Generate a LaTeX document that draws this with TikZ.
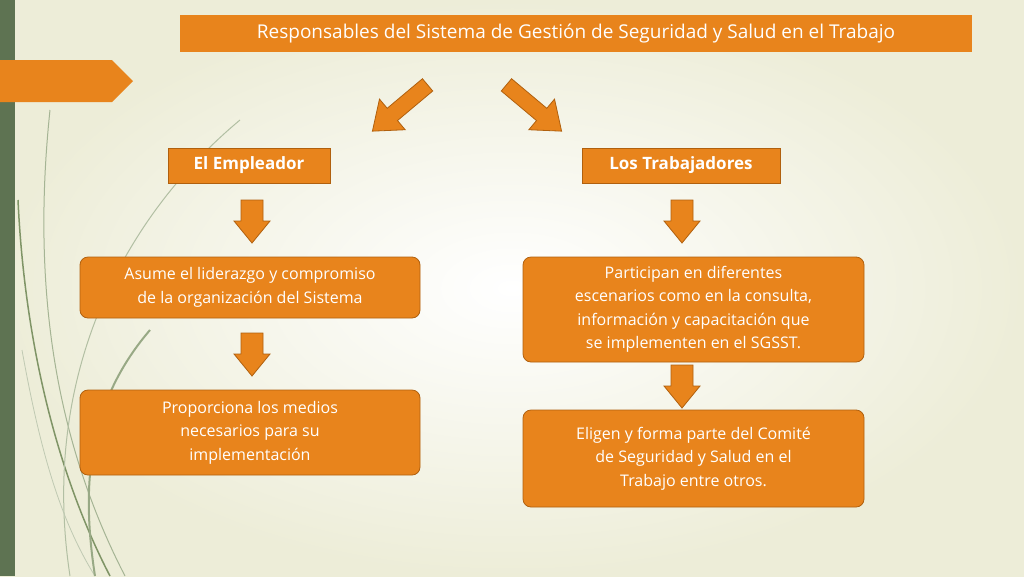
\documentclass[tikz,border=0pt]{standalone}
\usepackage{fontspec}
\setmainfont{Open Sans}
\begin{document}
\begin{tikzpicture}[x=1pt,y=-1pt,
  every node/.style={text=white,align=center,inner sep=0pt},
  obox/.style={fill=orgc,draw=orgd,line width=0.8pt},
  rbox/.style={obox,rounded corners=8pt},
  barrow/.style={fill=orgc,draw=orgd,line width=0.8pt}]
\definecolor{orgc}{HTML}{E8841C}
\definecolor{orgd}{HTML}{B0600E}
\definecolor{bgc}{HTML}{EDEDD8}
\definecolor{grn}{HTML}{5E7352}
\definecolor{lgrn}{HTML}{7F9466}
\useasboundingbox (0,0) rectangle (1024,576);
\shade[inner color=white,outer color=bgc] (0,0) rectangle (1024,576);
\fill[grn] (0,0) rectangle (15,576);
% grass
\draw[lgrn,line width=1.5pt] (18,200) .. controls (25,350) and (60,480) .. (110,576);
\draw[lgrn!70,line width=1pt] (50,110) .. controls (30,300) and (60,450) .. (125,576);
\draw[lgrn!60,line width=1pt] (240,120) .. controls (120,220) and (40,380) .. (70,576);
\draw[lgrn!50,line width=0.8pt] (22,350) .. controls (40,450) and (60,520) .. (95,576);
\draw[lgrn!80,line width=2pt] (150,330) .. controls (90,400) and (80,480) .. (95,576);
% left pentagon
\fill[orgc] (0,60) -- (112,60) -- (133,81) -- (112,102) -- (0,102) -- cycle;
% title
\node[obox,draw=none,minimum width=792,minimum height=37,font=\fontsize{19}{21}\selectfont] (title) at (576,33.5) {Responsables del Sistema de Gestión de Seguridad y Salud en el Trabajo};
% diagonal arrows
\begin{scope}[shift={(400,108)},rotate=-140]
\draw[barrow] (-36,-8) -- (10,-8) -- (10,-20) -- (36,0) -- (10,20) -- (10,8) -- (-36,8) -- cycle;
\end{scope}
\begin{scope}[shift={(534,108)},rotate=140]
\draw[barrow] (36,-8) -- (-10,-8) -- (-10,-20) -- (-36,0) -- (-10,20) -- (-10,8) -- (36,8) -- cycle;
\end{scope}
\node[obox,minimum width=162,minimum height=35,font=\bfseries\fontsize{17}{19}\selectfont] (emp) at (249,165.5) {El Empleador};
\node[obox,minimum width=198,minimum height=35,font=\bfseries\fontsize{17}{19}\selectfont] (trab) at (681,165.5) {Los Trabajadores};
% down arrows
\foreach \x/\y in {252/200,682/200,252/333,682/365}{
  \draw[barrow] (\x-11,\y) -- (\x+11,\y) -- (\x+11,\y+21) -- (\x+18,\y+21) -- (\x,\y+43) -- (\x-18,\y+21) -- (\x-11,\y+21) -- cycle;
}
\begin{scope}[font=\fontsize{16}{23.5}\selectfont]
\node[rbox,minimum width=340,minimum height=61] (l1) at (250,287.5) {Asume el liderazgo y compromiso\\de la organización del Sistema};
\node[rbox,minimum width=340,minimum height=85] (l2) at (250,432.5) {Proporciona los medios\\necesarios para su\\implementación};
\node[rbox,minimum width=341,minimum height=105] (r1) at (693.5,309.5) {Participan en diferentes\\escenarios como en la consulta,\\información y capacitación que\\se implementen en el SGSST.};
\node[rbox,minimum width=341,minimum height=97] (r2) at (693.5,458.5) {Eligen y forma parte del Comité\\de Seguridad y Salud en el\\Trabajo entre otros.};
\end{scope}
\end{tikzpicture}
\end{document}
